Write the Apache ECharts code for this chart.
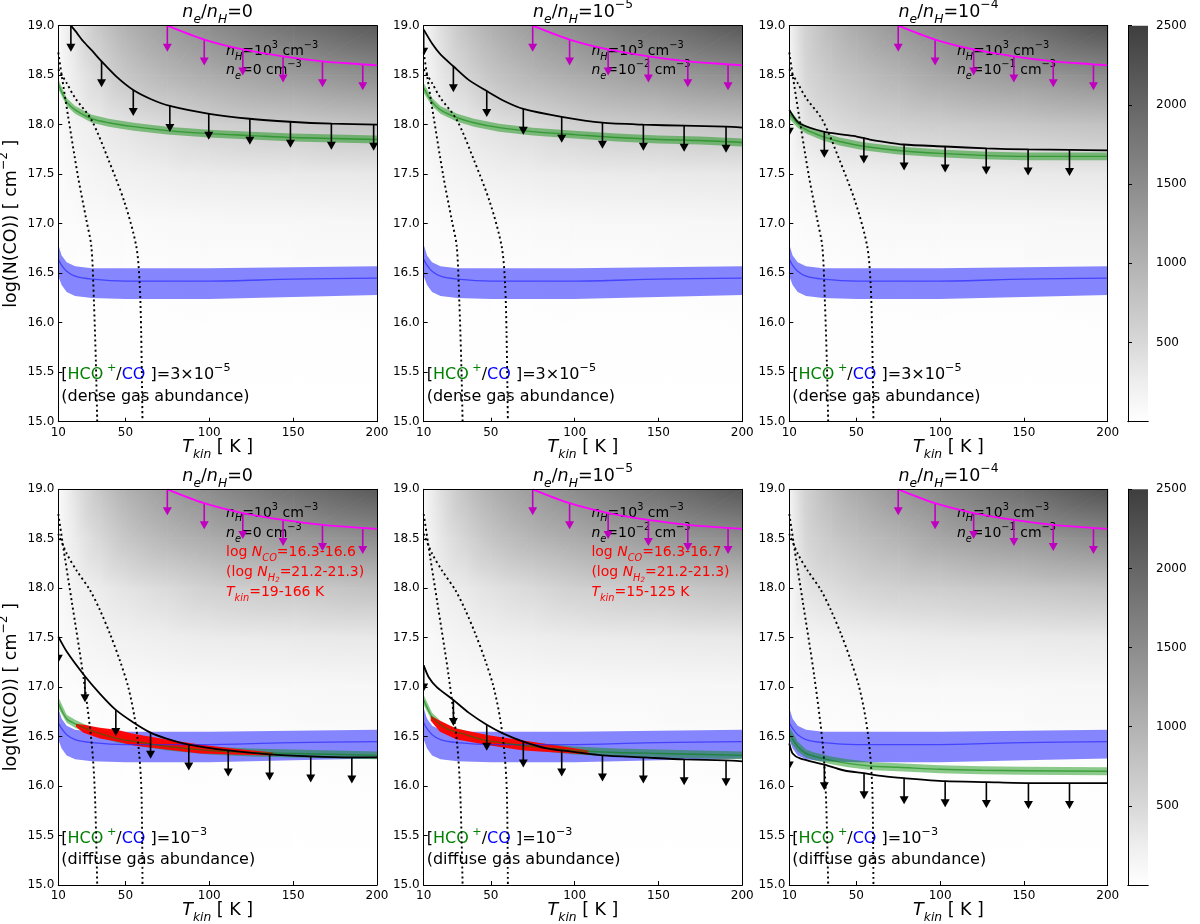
<!DOCTYPE html>
<html>
<head>
<meta charset="utf-8">
<script src="https://cdn.jsdelivr.net/npm/echarts@6/dist/echarts.min.js"></script>
<style>
  html, body { margin: 0; padding: 0; background: #fff; }
  #chart { width: 1200px; height: 924px; }
</style>
</head>
<body>
<div id="chart"></div>
<script>
// ---------------- data ----------------
// background grid (colour-bar quantity), rows = log N(CO), columns = Tkin
const bgT = [10, 20, 35, 50, 75, 100, 150, 200];
const bgN = [15.0, 16.0, 16.5, 17.0, 17.5, 18.0, 18.5, 19.0];
const bgNe0 = [
  [0, 0, 0, 0, 0, 0, 0, 0],
  [10, 10, 10, 15, 15, 20, 20, 25],
  [20, 25, 30, 35, 40, 45, 50, 55],
  [40, 55, 70, 80, 90, 100, 110, 120],
  [60, 120, 170, 210, 250, 280, 300, 320],
  [80, 190, 280, 370, 480, 600, 690, 790],
  [80, 280, 510, 730, 940, 1080, 1290, 1470],
  [80, 370, 740, 1000, 1290, 1500, 1850, 2150]
];
const bgNe5 = [
  [0, 0, 0, 0, 0, 0, 0, 0],
  [10, 10, 10, 15, 15, 20, 20, 25],
  [20, 25, 30, 35, 40, 45, 50, 55],
  [40, 55, 70, 80, 90, 100, 110, 120],
  [65, 130, 175, 215, 250, 280, 300, 320],
  [95, 220, 300, 390, 490, 600, 700, 790],
  [110, 330, 550, 750, 950, 1090, 1300, 1480],
  [120, 420, 780, 1030, 1300, 1510, 1860, 2170]
];
const bgNe4 = [
  [0, 0, 0, 0, 0, 0, 0, 0],
  [10, 10, 10, 15, 15, 20, 20, 25],
  [20, 30, 35, 40, 45, 50, 50, 55],
  [40, 70, 80, 90, 100, 105, 110, 120],
  [70, 160, 200, 230, 260, 280, 300, 320],
  [110, 370, 450, 530, 600, 640, 720, 790],
  [150, 530, 700, 820, 980, 1150, 1330, 1500],
  [190, 600, 900, 1100, 1350, 1550, 1900, 2250]
];

// blue band (same in all panels)
const blueT   = [10, 12, 15, 20, 30, 50, 75, 100, 150, 200];
const blueMid = [16.64, 16.58, 16.52, 16.47, 16.44, 16.42, 16.42, 16.42, 16.44, 16.45];
const blueHi  = [16.79, 16.68, 16.61, 16.57, 16.55, 16.55, 16.55, 16.55, 16.56, 16.57];
const blueLo  = [16.47, 16.38, 16.31, 16.27, 16.25, 16.24, 16.24, 16.24, 16.26, 16.28];

// magenta limit (same in all panels)
const magentaLine   = [[75, 19.0], [97, 18.86], [120, 18.76], [144, 18.69], [167.5, 18.64], [191.5, 18.61], [200, 18.60]];
const magentaArrows = [[75, 19.0], [97, 18.86], [120, 18.76], [144, 18.69], [167.5, 18.64], [191.5, 18.61]];

// dotted curves
const dotTopA = [[10, 18.73], [12, 18.5], [15.8, 18.09], [21.7, 17.48], [26.7, 17.04], [29.7, 16.77], [31.2, 16.23], [32.4, 15.6], [33.2, 15.0]];
const dotTopB = [[10, 18.56], [15, 18.42], [20, 18.27], [29.7, 18.05], [39.8, 17.65], [49.6, 17.21], [56.5, 16.77], [58.5, 16.4], [59.4, 15.9], [60.2, 15.0]];
const dotBotA = [[10, 18.75], [14, 18.3], [17.9, 17.88], [24.9, 17.11], [29.9, 16.43], [31.8, 15.93], [33.2, 15.0]];
const dotBotB = [[10, 18.55], [15, 18.35], [20.9, 18.18], [28.9, 17.98], [34.8, 17.78], [40.8, 17.54], [46.7, 17.27], [51.7, 17.0], [55.7, 16.67], [58.2, 16.33], [59.6, 15.93], [60.2, 15.0]];

// black limits + arrows
const blackP1 = [[17.5, 19.0], [20, 18.95], [25, 18.84], [30, 18.75], [35.8, 18.64], [45, 18.48], [54.7, 18.35], [65, 18.26], [76.5, 18.19], [100, 18.11], [124, 18.06], [148, 18.03], [173, 18.01], [200, 18.0]];
const arrowsP1 = [[17.5, 19.0], [35.8, 18.64], [54.7, 18.35], [76.5, 18.19], [99.7, 18.11], [124.2, 18.06], [148.4, 18.03], [172.8, 18.01], [198, 18.0]];
const blackP2 = [[10, 18.96], [15, 18.82], [20, 18.71], [27.7, 18.59], [37, 18.45], [47.6, 18.34], [58, 18.24], [69.4, 18.16], [92.3, 18.08], [116.6, 18.02], [141, 18.0], [165.3, 17.99], [190.3, 17.98], [200, 17.97]];
const arrowsP2 = [[10, 18.96], [27.7, 18.59], [47.6, 18.34], [69.4, 18.16], [92.3, 18.08], [116.6, 18.02], [141, 18.0], [165.3, 17.99], [190.3, 17.98]];
const blackP3 = [[10, 18.15], [13, 18.07], [16.4, 18.01], [30.3, 17.93], [42, 17.9], [50.2, 17.88], [58, 17.85], [78, 17.8], [103, 17.78], [127.8, 17.76], [152.7, 17.75], [177.6, 17.745], [200, 17.74]];
const arrowsP3 = [[10, 18.15], [30.9, 17.93], [54.5, 17.87], [78.5, 17.8], [103, 17.78], [127.5, 17.76], [152.5, 17.75], [177.2, 17.745]];
const blackP4 = [[10, 17.51], [15, 17.36], [25.9, 17.11], [35, 16.93], [44.3, 16.77], [55, 16.64], [65, 16.54], [74.5, 16.48], [87.8, 16.42], [111.3, 16.36], [136, 16.32], [160.5, 16.3], [185, 16.29], [200, 16.29]];
const arrowsP4 = [[10, 17.51], [25.9, 17.11], [44.3, 16.77], [65, 16.54], [87.8, 16.42], [111.3, 16.36], [136, 16.32], [160.5, 16.3], [185, 16.29]];
const blackP5 = [[10, 17.22], [13, 17.1], [17.8, 17.0], [27.7, 16.87], [37, 16.74], [47.6, 16.62], [57.5, 16.53], [69.4, 16.45], [83.4, 16.38], [92.3, 16.36], [116.6, 16.31], [141, 16.29], [165.3, 16.27], [190.3, 16.26], [200, 16.25]];
const arrowsP5 = [[10, 17.22], [27.7, 16.87], [47.6, 16.62], [69.4, 16.45], [92.3, 16.36], [116.6, 16.31], [141, 16.29], [165.3, 16.27], [190.3, 16.26]];
const blackP6 = [[10, 16.43], [12, 16.33], [16.4, 16.28], [30.3, 16.22], [42.2, 16.16], [54.6, 16.13], [66, 16.1], [78.5, 16.08], [103, 16.05], [127.8, 16.04], [152.7, 16.03], [177.6, 16.03], [200, 16.03]];
const arrowsP6 = [[10, 16.43], [30.9, 16.22], [54.6, 16.13], [78.5, 16.08], [103, 16.05], [127.6, 16.04], [152.7, 16.03], [177.2, 16.03]];

// green bands
const greenTTop = [10, 15, 20, 30, 40, 55, 75, 100, 125, 150, 175, 200];
const greenMidP1 = [18.41, 18.23, 18.15, 18.06, 18.02, 17.98, 17.94, 17.91, 17.89, 17.87, 17.86, 17.85];
const greenHiP1  = [18.46, 18.27, 18.19, 18.10, 18.06, 18.02, 17.98, 17.95, 17.93, 17.91, 17.90, 17.89];
const greenLoP1  = [18.36, 18.19, 18.11, 18.02, 17.98, 17.94, 17.90, 17.87, 17.85, 17.83, 17.82, 17.81];
const greenMidP2 = [18.37, 18.23, 18.15, 18.07, 18.02, 17.97, 17.93, 17.90, 17.87, 17.85, 17.84, 17.82];
const greenHiP2  = [18.42, 18.27, 18.19, 18.11, 18.06, 18.01, 17.97, 17.94, 17.91, 17.89, 17.88, 17.86];
const greenLoP2  = [18.32, 18.19, 18.11, 18.03, 17.98, 17.93, 17.89, 17.86, 17.83, 17.81, 17.80, 17.78];
const greenMidP3 = [18.11, 18.01, 17.95, 17.88, 17.83, 17.78, 17.74, 17.71, 17.69, 17.68, 17.68, 17.68];
const greenHiP3  = [18.16, 18.05, 17.99, 17.92, 17.87, 17.82, 17.78, 17.75, 17.73, 17.72, 17.72, 17.72];
const greenLoP3  = [18.06, 17.97, 17.91, 17.84, 17.79, 17.74, 17.70, 17.67, 17.65, 17.64, 17.64, 17.64];
const greenTBot = [10, 15, 20, 25, 35, 45, 60, 75, 100, 125, 150, 200];
const greenMidP4 = [16.84, 16.68, 16.63, 16.59, 16.53, 16.48, 16.44, 16.40, 16.36, 16.34, 16.33, 16.31];
const greenHiP4  = [16.90, 16.72, 16.67, 16.63, 16.57, 16.52, 16.48, 16.44, 16.40, 16.38, 16.37, 16.35];
const greenLoP4  = [16.79, 16.64, 16.59, 16.55, 16.49, 16.44, 16.40, 16.36, 16.32, 16.30, 16.29, 16.27];
const greenMidP5 = [16.87, 16.70, 16.62, 16.57, 16.52, 16.47, 16.43, 16.40, 16.36, 16.34, 16.33, 16.31];
const greenHiP5  = [16.92, 16.74, 16.66, 16.61, 16.56, 16.51, 16.47, 16.44, 16.40, 16.38, 16.37, 16.35];
const greenLoP5  = [16.82, 16.66, 16.58, 16.53, 16.48, 16.43, 16.39, 16.36, 16.32, 16.30, 16.29, 16.27];
const greenMidP6 = [16.53, 16.40, 16.33, 16.30, 16.26, 16.23, 16.20, 16.19, 16.17, 16.16, 16.155, 16.15];
const greenHiP6  = [16.60, 16.45, 16.37, 16.34, 16.30, 16.27, 16.24, 16.23, 16.21, 16.20, 16.195, 16.19];
const greenLoP6  = [16.46, 16.35, 16.29, 16.26, 16.22, 16.19, 16.16, 16.15, 16.13, 16.12, 16.115, 16.11];

// red solution ranges (bottom-left / bottom-middle)
const redTP4  = [20.5, 25, 34.8, 44.8, 54.7, 74.5, 94.4, 114, 138];
const redHiP4 = [16.63, 16.62, 16.59, 16.57, 16.53, 16.47, 16.42, 16.38, 16.34];
const redLoP4 = [16.60, 16.54, 16.48, 16.45, 16.41, 16.37, 16.33, 16.32, 16.31];
const redTP5  = [14.2, 19.7, 29.7, 49.6, 69.4, 89.3, 108.2];
const redHiP5 = [16.71, 16.66, 16.58, 16.51, 16.46, 16.41, 16.36];
const redLoP5 = [16.66, 16.55, 16.47, 16.41, 16.36, 16.34, 16.32];

const xTicks = [10, 50, 100, 150, 200];
const cbarTicks = [500, 1000, 1500, 2000, 2500];

// ---------------- styling / layout ----------------
const FONT = 'DejaVu Sans';
const COLS = [{ left: 58.3, width: 318.7 }, { left: 423.7, width: 318.6 }, { left: 789.3, width: 318.4 }];
const ROWS = [{ top: 25.7, height: 396 }, { top: 489.3, height: 395.7 }];
const CBAR = { left: 1128, width: 20 };
const CM_VAL = [0, 250, 500, 1000, 1500, 2000, 2500];
const CM_GRAY = [255, 238, 216, 178, 140, 102, 62];

function gray(v) {
  if (v <= CM_VAL[0]) return 'rgb(255,255,255)';
  for (let k = 1; k < CM_VAL.length; k++) {
    if (v <= CM_VAL[k]) {
      const t = (v - CM_VAL[k - 1]) / (CM_VAL[k] - CM_VAL[k - 1]);
      const g = Math.round(CM_GRAY[k - 1] + t * (CM_GRAY[k] - CM_GRAY[k - 1]));
      return `rgb(${g},${g},${g})`;
    }
  }
  const g = CM_GRAY[CM_GRAY.length - 1];
  return `rgb(${g},${g},${g})`;
}

// one triangle with a linear gradient that matches the three corner values
function triangle(p, f) {
  const [x1, y1] = p[0], [x2, y2] = p[1], [x3, y3] = p[2];
  const det = (x2 - x1) * (y3 - y1) - (x3 - x1) * (y2 - y1);
  const a = ((f[1] - f[0]) * (y3 - y1) - (f[2] - f[0]) * (y2 - y1)) / det;
  const b = ((x2 - x1) * (f[2] - f[0]) - (x3 - x1) * (f[1] - f[0])) / det;
  const g2 = a * a + b * b;
  const fmin = Math.min(...f), fmax = Math.max(...f);
  let fill;
  if (g2 < 1e-12 || fmax - fmin < 0.5) {
    fill = gray((fmin + fmax) / 2);
  } else {
    const k = f.indexOf(fmin);
    const s = (fmax - fmin) / g2;
    const stops = [0, 0.25, 0.5, 0.75, 1].map(o => ({ offset: o, color: gray(fmin + o * (fmax - fmin)) }));
    fill = new echarts.graphic.LinearGradient(p[k][0], p[k][1], p[k][0] + a * s, p[k][1] + b * s, stops, true);
  }
  return { type: 'polygon', shape: { points: p }, style: { fill: fill, stroke: fill, lineWidth: 0.8 } };
}

function backgroundSeries(ax, grid) {
  const data = [];
  for (let j = 0; j < bgN.length - 1; j++)
    for (let i = 0; i < bgT.length - 1; i++) data.push([bgT[i], bgN[j], i, j]);
  return {
    type: 'custom', xAxisIndex: ax, yAxisIndex: ax, z: 1, clip: true, silent: true,
    data: data, encode: { x: 0, y: 1 },
    renderItem(params, api) {
      const i = api.value(2), j = api.value(3);
      const p00 = api.coord([bgT[i], bgN[j]]), p10 = api.coord([bgT[i + 1], bgN[j]]);
      const p01 = api.coord([bgT[i], bgN[j + 1]]), p11 = api.coord([bgT[i + 1], bgN[j + 1]]);
      const v00 = grid[j][i], v10 = grid[j][i + 1], v01 = grid[j + 1][i], v11 = grid[j + 1][i + 1];
      return { type: 'group', children: [
        triangle([p00, p10, p11], [v00, v10, v11]),
        triangle([p00, p11, p01], [v00, v11, v01])
      ] };
    }
  };
}

function bandSeries(ax, T, lo, hi, fill, z) {
  return {
    type: 'custom', xAxisIndex: ax, yAxisIndex: ax, z: z, clip: true, silent: true,
    data: T.map((t, k) => [t, lo[k], hi[k]]), encode: { x: 0, y: [1, 2] },
    renderItem(params, api) {
      if (params.dataIndex !== 0) return null;
      const pts = [];
      for (let k = 0; k < T.length; k++) pts.push(api.coord([T[k], hi[k]]));
      for (let k = T.length - 1; k >= 0; k--) pts.push(api.coord([T[k], lo[k]]));
      return { type: 'polygon', shape: { points: pts }, style: { fill: fill } };
    }
  };
}

function lineSeries(ax, data, color, width, z, type, smooth) {
  return {
    type: 'line', xAxisIndex: ax, yAxisIndex: ax, data: data, z: z, clip: true, silent: true,
    showSymbol: false, symbol: 'none', smooth: smooth,
    lineStyle: { color: color, width: width, type: type || 'solid', cap: 'butt' }
  };
}

function arrowSeries(ax, data, color, z) {
  return {
    type: 'custom', xAxisIndex: ax, yAxisIndex: ax, z: z, clip: true, silent: true,
    data: data, encode: { x: 0, y: 1 },
    renderItem(params, api) {
      const p = api.coord([api.value(0), api.value(1)]);
      const L = 26, hw = 4.5, hh = 8;
      return { type: 'group', children: [
        { type: 'line', shape: { x1: p[0], y1: p[1], x2: p[0], y2: p[1] + L - hh + 1 }, style: { stroke: color, lineWidth: 1.6 } },
        { type: 'polygon', shape: { points: [[p[0] - hw, p[1] + L - hh], [p[0] + hw, p[1] + L - hh], [p[0], p[1] + L]] }, style: { fill: color } }
      ] };
    }
  };
}

const panels = [
  { bg: bgNe0, black: blackP1, arrows: arrowsP1, gT: greenTTop, gMid: greenMidP1, gHi: greenHiP1, gLo: greenLoP1, dotA: dotTopA, dotB: dotTopB },
  { bg: bgNe5, black: blackP2, arrows: arrowsP2, gT: greenTTop, gMid: greenMidP2, gHi: greenHiP2, gLo: greenLoP2, dotA: dotTopA, dotB: dotTopB },
  { bg: bgNe4, black: blackP3, arrows: arrowsP3, gT: greenTTop, gMid: greenMidP3, gHi: greenHiP3, gLo: greenLoP3, dotA: dotTopA, dotB: dotTopB },
  { bg: bgNe0, black: blackP4, arrows: arrowsP4, gT: greenTBot, gMid: greenMidP4, gHi: greenHiP4, gLo: greenLoP4, dotA: dotBotA, dotB: dotBotB, red: [redTP4, redLoP4, redHiP4] },
  { bg: bgNe5, black: blackP5, arrows: arrowsP5, gT: greenTBot, gMid: greenMidP5, gHi: greenHiP5, gLo: greenLoP5, dotA: dotBotA, dotB: dotBotB, red: [redTP5, redLoP5, redHiP5] },
  { bg: bgNe4, black: blackP6, arrows: arrowsP6, gT: greenTBot, gMid: greenMidP6, gHi: greenHiP6, gLo: greenLoP6, dotA: dotBotA, dotB: dotBotB }
];

const grids = [], xAxes = [], yAxes = [], series = [];
const lineAxis = { show: true, lineStyle: { color: '#000', width: 1 } };

const nameRich = {
  it: { fontFamily: FONT, fontSize: 17.5, fontStyle: 'italic', color: '#000', lineHeight: 27 },
  sub: { fontFamily: FONT, fontSize: 12.3, fontStyle: 'italic', color: '#000', lineHeight: 13, verticalAlign: 'bottom' },
  sup: { fontFamily: FONT, fontSize: 12.3, color: '#000', lineHeight: 13, verticalAlign: 'top' }
};

panels.forEach((pn, gi) => {
  const c = COLS[gi % 3], r = ROWS[Math.floor(gi / 3)];
  grids.push({ left: c.left, top: r.top, width: c.width, height: r.height, outerBoundsMode: 'none' });
  xAxes.push({
    gridIndex: gi, type: 'value', min: 10, max: 200, position: 'bottom', z: 20,
    axisLine: lineAxis, splitLine: { show: false },
    axisTick: { inside: true, length: 4, lineStyle: { color: '#000' }, customValues: xTicks },
    axisLabel: { customValues: xTicks, fontFamily: FONT, fontSize: 12, color: '#000', margin: 5 },
    name: '{it|T}{sub|kin} [ K ]', nameLocation: 'middle', nameGap: 12, nameMoveOverlap: false,
    nameTextStyle: { fontFamily: FONT, fontSize: 17.5, color: '#000', lineHeight: 27, rich: nameRich }
  });
  xAxes.push({
    gridIndex: gi, type: 'value', min: 10, max: 200, position: 'top', z: 20,
    axisLine: lineAxis, axisTick: { show: false }, axisLabel: { show: false }, splitLine: { show: false }
  });
  yAxes.push({
    gridIndex: gi, type: 'value', min: 15, max: 19, interval: 0.5, position: 'left', z: 20,
    axisLine: lineAxis, splitLine: { show: false },
    axisTick: { inside: true, length: 4, lineStyle: { color: '#000' } },
    axisLabel: { fontFamily: FONT, fontSize: 12, color: '#000', margin: 4, formatter: v => v.toFixed(1) },
    name: gi % 3 === 0 ? 'log(N(CO)) [ cm{sup|−2} ]' : '', nameLocation: 'middle', nameGap: 33, nameRotate: 90,
    nameMoveOverlap: false,
    nameTextStyle: { fontFamily: FONT, fontSize: 17.5, color: '#000', lineHeight: 27, rich: nameRich }
  });
  yAxes.push({
    gridIndex: gi, type: 'value', min: 15, max: 19, position: 'right', z: 20,
    axisLine: lineAxis, axisTick: { show: false }, axisLabel: { show: false }, splitLine: { show: false }
  });

  const ax = 2 * gi;
  series.push(backgroundSeries(ax, pn.bg));
  series.push(bandSeries(ax, blueT, blueLo, blueHi, 'rgba(0,0,255,0.47)', 2));
  series.push(bandSeries(ax, pn.gT, pn.gLo, pn.gHi, 'rgba(0,140,0,0.45)', 3));
  if (pn.red) series.push(bandSeries(ax, pn.red[0], pn.red[1], pn.red[2], 'rgba(255,0,0,0.96)', 4));
  series.push(lineSeries(ax, blueT.map((t, k) => [t, blueMid[k]]), 'rgba(40,40,255,0.7)', 1.3, 5, 'solid', 0.3));
  series.push(lineSeries(ax, pn.gT.map((t, k) => [t, pn.gMid[k]]), 'rgba(0,128,0,0.55)', 1.4, 5, 'solid', 0.3));
  series.push(lineSeries(ax, pn.dotA, '#000', 1.9, 7, [2, 3], 0.3));
  series.push(lineSeries(ax, pn.dotB, '#000', 1.9, 7, [2, 3], 0.3));
  series.push(lineSeries(ax, pn.black, '#000', 1.8, 8, 'solid', 0.25));
  series.push(arrowSeries(ax, pn.arrows, '#000', 8));
  series.push(lineSeries(ax, magentaLine, '#ff00ff', 1.8, 9, 'solid', 0.3));
  series.push(arrowSeries(ax, magentaArrows, '#bf00bf', 9));
});

// colour bars
ROWS.forEach((r, ri) => {
  const gi = 6 + ri;
  grids.push({ left: CBAR.left, top: r.top, width: CBAR.width, height: r.height, outerBoundsMode: 'none' });
  xAxes.push({ gridIndex: gi, type: 'value', min: 0, max: 1, position: 'bottom', z: 20, axisLine: lineAxis, axisTick: { show: false }, axisLabel: { show: false }, splitLine: { show: false } });
  xAxes.push({ gridIndex: gi, type: 'value', min: 0, max: 1, position: 'top', z: 20, axisLine: lineAxis, axisTick: { show: false }, axisLabel: { show: false }, splitLine: { show: false } });
  yAxes.push({ gridIndex: gi, type: 'value', min: 0, max: 2500, position: 'left', z: 20, axisLine: lineAxis, axisTick: { show: false }, axisLabel: { show: false }, splitLine: { show: false } });
  yAxes.push({
    gridIndex: gi, type: 'value', min: 0, max: 2500, position: 'right', z: 20, axisLine: lineAxis, splitLine: { show: false },
    axisTick: { inside: false, length: 4, lineStyle: { color: '#000' }, customValues: cbarTicks },
    axisLabel: { customValues: cbarTicks, fontFamily: FONT, fontSize: 12, color: '#000', margin: 8, formatter: v => String(v) }
  });
  series.push({
    type: 'custom', xAxisIndex: 2 * gi, yAxisIndex: 2 * gi + 1, z: 1, silent: true,
    data: [[0, CM_VAL[0], CM_VAL[CM_VAL.length - 1]]], encode: { x: 0, y: [1, 2] },
    renderItem(params, api) {
      const lo = api.coord([0, api.value(1)]), hi = api.coord([1, api.value(2)]);
      const stops = CM_VAL.map(v => ({ offset: (v - api.value(1)) / (api.value(2) - api.value(1)), color: gray(v) }));
      return {
        type: 'rect', shape: { x: lo[0], y: hi[1], width: hi[0] - lo[0], height: lo[1] - hi[1] },
        style: { fill: new echarts.graphic.LinearGradient(lo[0], lo[1], lo[0], hi[1], stops, true) }
      };
    }
  });
});

// ---------------- texts ----------------
function rich(fs, color) {
  const s = +(fs * 0.7).toFixed(1), lh = +(fs * 1.55).toFixed(1);
  const base = { fontFamily: FONT, fill: color };
  return {
    i:   Object.assign({}, base, { fontSize: fs, fontStyle: 'italic', lineHeight: lh }),
    is:  Object.assign({}, base, { fontSize: s, fontStyle: 'italic', lineHeight: s * 1.05, verticalAlign: 'bottom' }),
    iss: Object.assign({}, base, { fontSize: +(s * 0.72).toFixed(1), fontStyle: 'italic', lineHeight: s * 0.55, verticalAlign: 'bottom' }),
    sp:  Object.assign({}, base, { fontSize: s, lineHeight: s * 1.1, verticalAlign: 'top' }),
    g:   { fontFamily: FONT, fill: '#008000', fontSize: fs, lineHeight: lh },
    gs:  { fontFamily: FONT, fill: '#008000', fontSize: s, lineHeight: s * 1.1, verticalAlign: 'top' },
    b:   { fontFamily: FONT, fill: '#0000ff', fontSize: fs, lineHeight: lh }
  };
}
function label(x, y, text, fs, color, align) {
  return {
    type: 'text', x: x, y: y, z: 3, silent: true,
    style: { text: text, rich: rich(fs, color), fontFamily: FONT, fontSize: fs, fill: color,
      lineHeight: +(fs * 1.55).toFixed(1), align: align || 'left', verticalAlign: 'middle' }
  };
}
function px(gi, T, N) {
  const c = COLS[gi % 3], r = ROWS[Math.floor(gi / 3)];
  return [c.left + (T - 10) / 190 * c.width, r.top + (19 - N) / 4 * r.height];
}

const titles = ['{i|n}{is|e}/{i|n}{is|H}=0', '{i|n}{is|e}/{i|n}{is|H}=10{sp|−5}', '{i|n}{is|e}/{i|n}{is|H}=10{sp|−4}'];
const neTexts = ['{i|n}{is|e}=0 cm{sp|−3}', '{i|n}{is|e}=10{sp|−2} cm{sp|−3}', '{i|n}{is|e}=10{sp|−1} cm{sp|−3}'];
const abundTop = ['[{g|HCO}{gs| +}/{b|CO} ]=3×10{sp|−5}', '(dense gas abundance)'];
const abundBot = ['[{g|HCO}{gs| +}/{b|CO} ]=10{sp|−3}', '(diffuse gas abundance)'];
const redTexts = [
  ['log {i|N}{is|CO}=16.3-16.6', '(log {i|N}{is|H}{iss|2}=21.2-21.3)', '{i|T}{is|kin}=19-166 K'],
  ['log {i|N}{is|CO}=16.3-16.7', '(log {i|N}{is|H}{iss|2}=21.2-21.3)', '{i|T}{is|kin}=15-125 K']
];
const titleY = [12.7, 476];

const graphics = [];
panels.forEach((pn, gi) => {
  const col = gi % 3, row = Math.floor(gi / 3);
  const c = COLS[col];
  graphics.push(label(c.left + c.width / 2, titleY[row], titles[col], 17.5, '#000', 'center'));
  const nH = row === 0 ? 18.74 : 18.76, nE = row === 0 ? 18.55 : 18.555;
  let p = px(gi, 110, nH);
  graphics.push(label(p[0], p[1], '{i|n}{is|H}=10{sp|3} cm{sp|−3}', 14, '#000'));
  p = px(gi, 110, nE);
  graphics.push(label(p[0], p[1], neTexts[col], 14, '#000'));
  if (row === 1 && col < 2) {
    [18.36, 18.16, 17.955].forEach((N, k) => {
      const q = px(gi, 110, N);
      graphics.push(label(q[0], q[1], redTexts[col][k], 14, '#ff0000'));
    });
  }
  const ab = row === 0 ? abundTop : abundBot;
  p = px(gi, 11.8, 15.47);
  graphics.push(label(p[0], p[1], ab[0], 16, '#000'));
  p = px(gi, 11.8, 15.25);
  graphics.push(label(p[0], p[1], ab[1], 16, '#000'));
});

const chart = echarts.init(document.getElementById('chart'), null, { renderer: 'canvas' });
chart.setOption({
  animation: false,
  backgroundColor: '#ffffff',
  textStyle: { fontFamily: FONT },
  grid: grids,
  xAxis: xAxes,
  yAxis: yAxes,
  series: series,
  graphic: { elements: graphics }
});
</script>
</body>
</html>
